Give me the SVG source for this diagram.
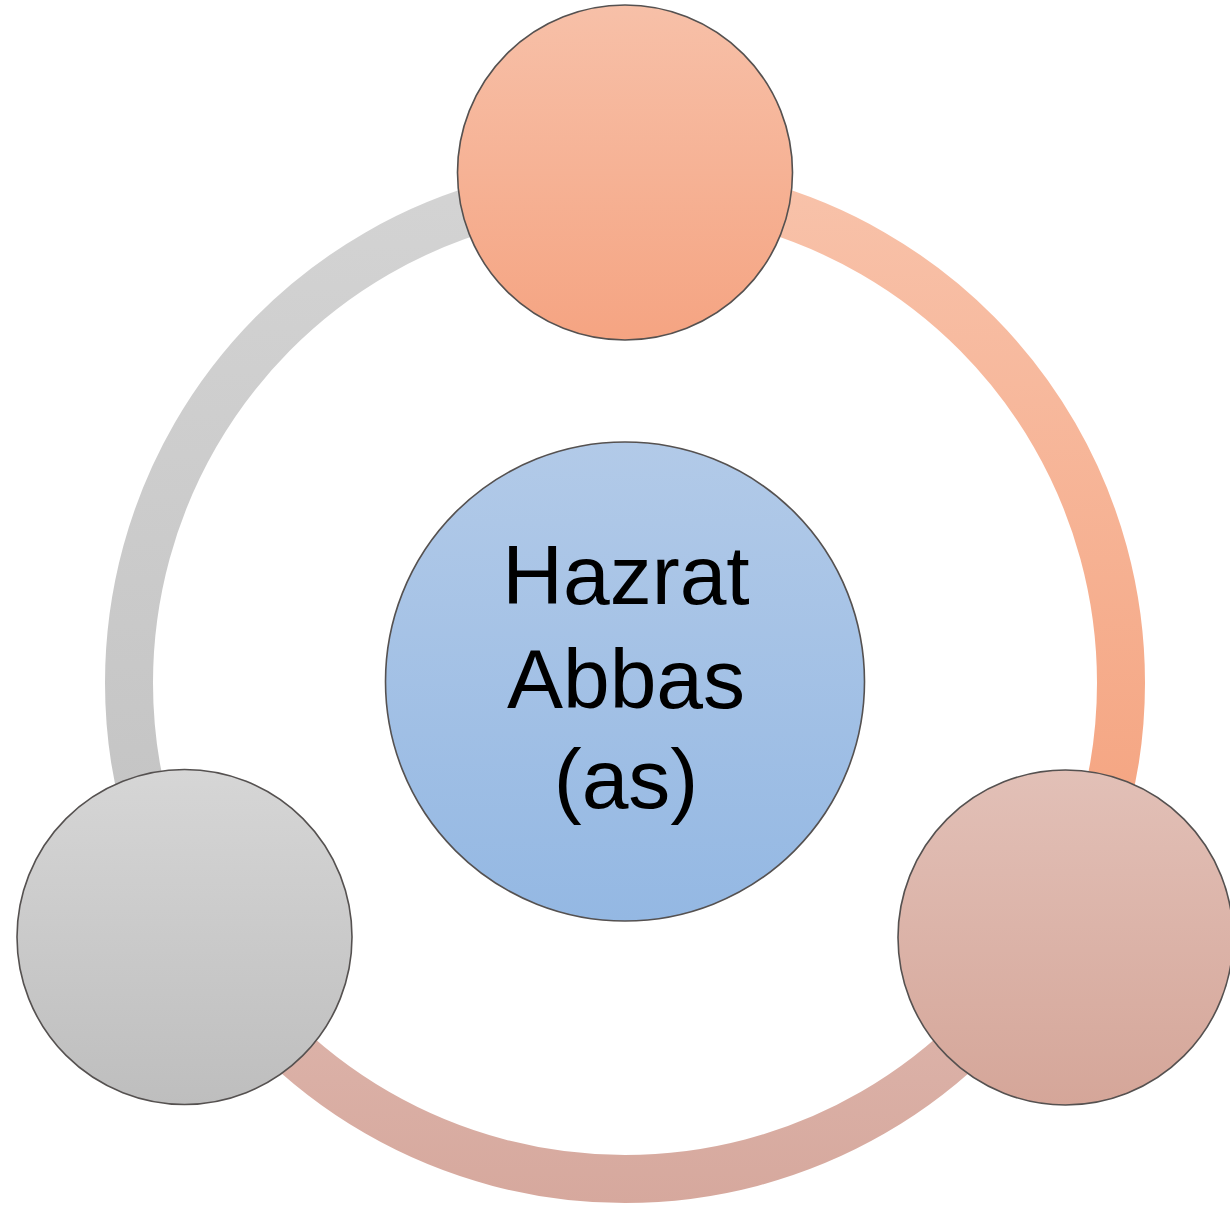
<svg xmlns="http://www.w3.org/2000/svg" width="1230" height="1205" viewBox="0 0 1230 1205">
  <defs>
    <linearGradient id="gArcGray" gradientUnits="userSpaceOnUse" x1="0" y1="160" x2="0" y2="960">
      <stop offset="0" stop-color="#D4D4D4"/>
      <stop offset="1" stop-color="#C1C1C1"/>
    </linearGradient>
    <linearGradient id="gArcOrange" gradientUnits="userSpaceOnUse" x1="0" y1="160" x2="0" y2="800">
      <stop offset="0" stop-color="#F8C3AB"/>
      <stop offset="1" stop-color="#F5A683"/>
    </linearGradient>
    <linearGradient id="gArcRose" gradientUnits="userSpaceOnUse" x1="0" y1="920" x2="0" y2="1205">
      <stop offset="0" stop-color="#DFB8AF"/>
      <stop offset="1" stop-color="#D6A89D"/>
    </linearGradient>
    <linearGradient id="gTop" x1="0" y1="0" x2="0" y2="1">
      <stop offset="0" stop-color="#F7C0A8"/>
      <stop offset="1" stop-color="#F5A482"/>
    </linearGradient>
    <linearGradient id="gCenter" x1="0" y1="0" x2="0" y2="1">
      <stop offset="0" stop-color="#B2CAE8"/>
      <stop offset="1" stop-color="#94B8E3"/>
    </linearGradient>
    <linearGradient id="gRight" x1="0" y1="0" x2="0" y2="1">
      <stop offset="0" stop-color="#E2C0B7"/>
      <stop offset="1" stop-color="#D5A699"/>
    </linearGradient>
    <linearGradient id="gLeft" x1="0" y1="0" x2="0" y2="1">
      <stop offset="0" stop-color="#D6D6D6"/>
      <stop offset="1" stop-color="#BEBEBE"/>
    </linearGradient>
  </defs>
  <style>
    .arc { fill: none; stroke-width: 48; }
    .node { stroke: #555150; stroke-width: 1.6; }
    .label { font-family: "Liberation Sans", Arial, sans-serif; font-size: 84px; fill: #000000; text-anchor: middle; }
  </style>
  <g id="connectors">
    <path class="arc" stroke="url(#gArcGray)" d="M 625 187 A 496 496 0 0 0 195.45 931"/>
    <path class="arc" stroke="url(#gArcOrange)" d="M 625 187 A 496 496 0 0 1 1054.55 931"/>
    <path class="arc" stroke="url(#gArcRose)" d="M 1054.55 931 A 496 496 0 0 1 195.45 931"/>
  </g>
  <g id="node-top">
    <circle class="node" cx="625" cy="172.5" r="167.5" fill="url(#gTop)"/>
  </g>
  <g id="node-right">
    <circle class="node" cx="1065.5" cy="937.5" r="167.5" fill="url(#gRight)"/>
  </g>
  <g id="node-left">
    <circle class="node" cx="184.5" cy="937" r="167.5" fill="url(#gLeft)"/>
  </g>
  <g id="node-center">
    <circle class="node" cx="625" cy="681.5" r="239.5" fill="url(#gCenter)"/>
    <text class="label" x="626" y="604">Hazrat</text>
    <text class="label" x="626" y="708">Abbas</text>
    <text class="label" x="626" y="808">(as)</text>
  </g>
</svg>
